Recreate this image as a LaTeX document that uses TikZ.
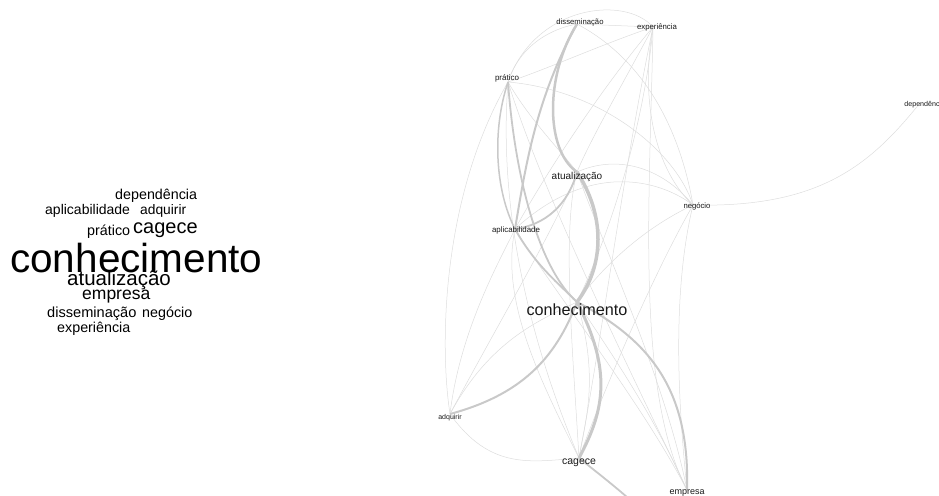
\documentclass[tikz,border=0pt]{standalone}
\usepackage{fontspec}
\setmainfont{Liberation Sans}
\definecolor{thinE}{HTML}{DDDDDD}
\definecolor{thickE}{HTML}{C9C9C9}
\tikzset{
  thinedge/.style={draw=thinE, line width=0.5pt},
  thickedge/.style={draw=thickE, line width=#1},
  thickedge/.default=2pt,
  cloudword/.style={anchor=base west, inner sep=0pt, text=black},
  netlabel/.style={anchor=base, inner sep=0pt, text=black!90}
}
\newcommand\fsz[1]{\fontsize{#1}{#1}\selectfont}
\begin{document}
\begin{tikzpicture}[x=1pt,y=-1pt]
\useasboundingbox (0,0) rectangle (939,495);
% ---------- word cloud ----------
\node[cloudword] (wdep) at (115,199) {\fsz{14.3}dependência};
\node[cloudword] (wapl) at (45,214) {\fsz{14}aplicabilidade};
\node[cloudword] (wadq) at (140,214) {\fsz{13.8}adquirir};
\node[cloudword] (wpra) at (87,235) {\fsz{14.3}prático};
\node[cloudword] (wcag) at (133,233) {\fsz{20}cagece};
\node[cloudword] (wcon) at (10,272) {\fsz{40.5}conhecimento};
\node[cloudword] (watu) at (67,285) {\fsz{20.5}atualização};
\node[cloudword] (wemp) at (82,299) {\fsz{17.5}empresa};
\node[cloudword] (wdis) at (47,317) {\fsz{14.6}disseminação};
\node[cloudword] (wneg) at (142,317) {\fsz{14.3}negócio};
\node[cloudword] (wexp) at (57,332) {\fsz{14.3}experiência};
% ---------- network points ----------
\coordinate (diss) at (577,24);
\coordinate (exp) at (653,27);
\coordinate (prat) at (508,82);
\coordinate (atua) at (577,172);
\coordinate (neg) at (693,205);
\coordinate (apl) at (515,229);
\coordinate (con) at (577,302);
\coordinate (adq) at (450,414);
\coordinate (cag) at (579,458);
\coordinate (emp) at (687,490);
\coordinate (dep) at (920,103);
\coordinate (offb) at (660,530);
\begin{scope}
\clip (0,0) rectangle (939,495);
% thin edges
\draw[thinedge] (diss) -- (exp);
\draw[thinedge] (prat) .. controls (535,5) and (625,-5) .. (exp);
\draw[thinedge] (diss) .. controls (545,30) and (518,50) .. (prat);
\draw[thinedge] (diss) .. controls (645,60) and (680,130) .. (neg);
\draw[thinedge] (prat) .. controls (600,90) and (675,150) .. (neg);
\draw[thinedge] (exp) .. controls (640,100) and (655,170) .. (neg);
\draw[thinedge] (exp) .. controls (600,45) and (545,70) .. (prat);
\draw[thinedge] (exp) .. controls (600,90) and (545,175) .. (apl);
\draw[thinedge] (exp) .. controls (625,80) and (590,140) .. (atua);
\draw[thinedge] (exp) .. controls (645,120) and (612,230) .. (con);
\draw[thinedge] (exp) .. controls (625,160) and (600,350) .. (cag);
\draw[thinedge] (exp) .. controls (650,200) and (635,390) .. (emp);
\draw[thinedge] (atua) .. controls (615,155) and (660,165) .. (neg);
\draw[thinedge] (apl) .. controls (590,160) and (660,180) .. (neg);
\draw[thinedge] (neg) .. controls (820,208) and (870,165) .. (dep);
\draw[thinedge] (neg) .. controls (640,230) and (600,270) .. (con);
\draw[thinedge] (neg) .. controls (650,280) and (600,400) .. (cag);
\draw[thinedge] (neg) .. controls (670,300) and (680,420) .. (emp);
\draw[thinedge] (prat) .. controls (530,120) and (560,150) .. (atua);
\draw[thinedge] (prat) .. controls (495,250) and (555,400) .. (cag);
\draw[thinedge] (prat) .. controls (440,200) and (440,350) .. (adq);
\draw[thinedge] (adq) .. controls (460,330) and (500,260) .. (apl);
\draw[thinedge] (adq) .. controls (500,320) and (560,220) .. (atua);
\draw[thinedge] (adq) .. controls (490,340) and (540,320) .. (con);
\draw[thinedge] (adq) .. controls (490,470) and (530,462) .. (cag);
\draw[thinedge] (cag) .. controls (540,380) and (500,300) .. (apl);
\draw[thinedge] (cag) .. controls (572,340) and (562,230) .. (atua);
\draw[thinedge] (emp) .. controls (640,400) and (560,300) .. (apl);
\draw[thinedge] (emp) .. controls (630,370) and (545,200) .. (prat);
\draw[thinedge] (emp) .. controls (665,380) and (605,250) .. (atua);
\draw[thinedge] (con) .. controls (600,380) and (585,420) .. (cag);
\draw[thinedge] (con) .. controls (630,380) and (660,430) .. (emp);
% thick edges
\draw[thickedge=1.5pt] (prat) .. controls (492,130) and (495,190) .. (apl);
\draw[thickedge=1.8pt] (apl) .. controls (545,225) and (568,205) .. (atua);
\draw[thickedge=2pt] (diss) .. controls (535,100) and (525,170) .. (apl);
\draw[thickedge=1.8pt] (prat) .. controls (515,180) and (540,270) .. (con);
\draw[thickedge=1.8pt] (apl) .. controls (535,265) and (560,285) .. (con);
\draw[thickedge=2.5pt] (diss) .. controls (545,75) and (545,150) .. (atua);
\draw[thickedge=3.5pt] (atua) .. controls (605,215) and (605,265) .. (con);
\draw[thickedge=3pt] (con) .. controls (612,370) and (605,410) .. (cag);
\draw[thickedge=2pt] (con) .. controls (555,360) and (520,395) .. (adq);
\draw[thickedge=2pt] (con) .. controls (650,340) and (690,390) .. (emp);
\draw[thickedge=1.8pt] (cag) .. controls (600,475) and (640,505) .. (offb);
\end{scope}
% ---------- network labels ----------
\node[netlabel] (ldis) at (580,25) {\fsz{7.7}disseminação};
\node[netlabel] (lexp) at (657,30) {\fsz{7.8}experiência};
\node[netlabel] (lpra) at (507,81) {\fsz{8}prático};
\node[netlabel] (ldep) at (922,106) {\fsz{7.1}dependênc};
\node[netlabel] (latu) at (577,179.5) {\fsz{10}atualização};
\node[netlabel] (lneg) at (697,208) {\fsz{7.7}negócio};
\node[netlabel] (lapl) at (516,232) {\fsz{7.9}aplicabilidade};
\node[netlabel] (lcon) at (577,315) {\fsz{16.2}conhecimento};
\node[netlabel] (ladq) at (450,419) {\fsz{7}adquirir};
\node[netlabel] (lcag) at (579,464) {\fsz{10.5}cagece};
\node[netlabel] (lemp) at (687,494.5) {\fsz{9}empresa};
\end{tikzpicture}
\end{document}
